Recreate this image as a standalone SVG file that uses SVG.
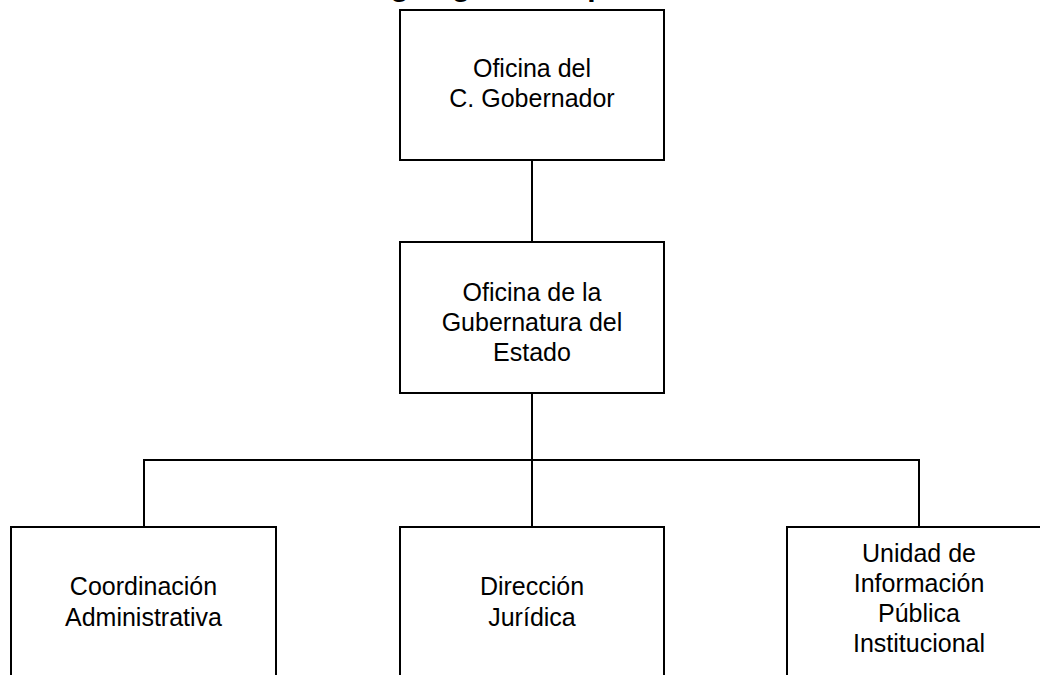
<svg xmlns="http://www.w3.org/2000/svg" width="1040" height="675" viewBox="0 0 1040 675">
<style>
.box{fill:#fff;stroke:#000;stroke-width:2}
.ln{stroke:#000;stroke-width:2;fill:none}
.t{font-family:"Liberation Sans",Arial,sans-serif;font-size:25px;fill:#000;text-anchor:middle}
.title{font-family:"Liberation Sans",Arial,sans-serif;font-size:30px;font-weight:bold;fill:#000;text-anchor:middle}
</style>
<rect width="1040" height="675" fill="#fff"/>
<text class="title" x="528" y="-4">Organigrama Específico</text>
<g id="connectors">
<line class="ln" x1="532" y1="160" x2="532" y2="242"/>
<line class="ln" x1="532" y1="393" x2="532" y2="527"/>
<polyline class="ln" points="144,527 144,460 919,460 919,527"/>
</g>
<g id="n1">
<rect class="box" x="400" y="10" width="264" height="150"/>
<text class="t" x="532" y="77">Oficina del</text>
<text class="t" x="532" y="107">C. Gobernador</text>
</g>
<g id="n2">
<rect class="box" x="400" y="242" width="264" height="151"/>
<text class="t" x="532" y="301">Oficina de la</text>
<text class="t" x="532" y="331">Gubernatura del</text>
<text class="t" x="532" y="361">Estado</text>
</g>
<g id="n3">
<rect class="box" x="11" y="527" width="265" height="170"/>
<text class="t" x="143.5" y="595">Coordinación</text>
<text class="t" x="143.5" y="626">Administrativa</text>
</g>
<g id="n4">
<rect class="box" x="400" y="527" width="264" height="170"/>
<text class="t" x="532" y="595">Dirección</text>
<text class="t" x="532" y="626">Jurídica</text>
</g>
<g id="n5">
<rect class="box" x="787" y="527" width="265" height="170"/>
<text class="t" x="919" y="562">Unidad de</text>
<text class="t" x="919" y="592">Información</text>
<text class="t" x="919" y="622">Pública</text>
<text class="t" x="919" y="652">Institucional</text>
</g>
</svg>
